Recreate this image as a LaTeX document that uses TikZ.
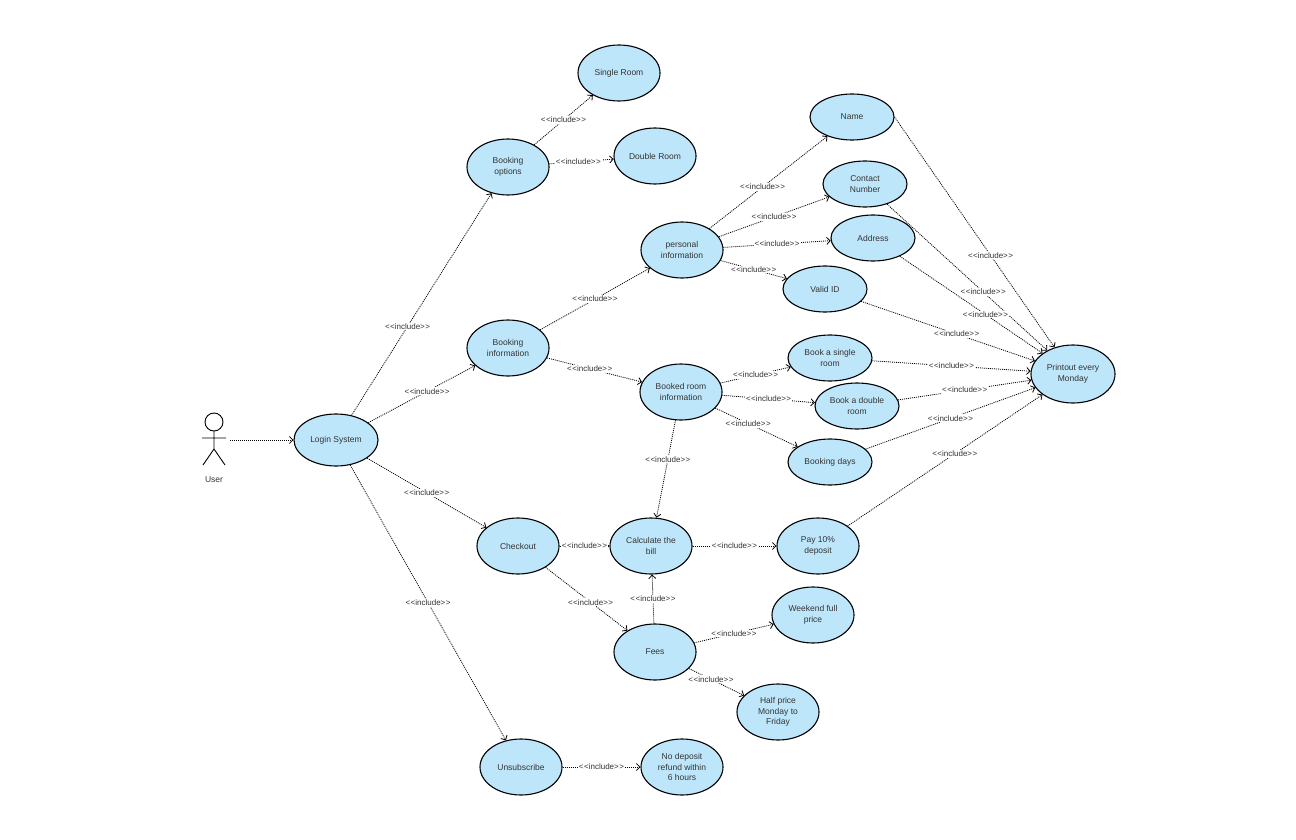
\documentclass[tikz,border=0pt]{standalone}
\usepackage{fontspec}
\setmainfont{Liberation Sans}[Ligatures=NoCommon]
\usetikzlibrary{arrows.meta,shapes.geometric}
\definecolor{uc}{HTML}{BEE6FB}
\definecolor{tx}{HTML}{333333}
\tikzset{
 uc/.style={draw=black,line width=1.1pt,fill=uc,shape=ellipse,minimum width=82pt,minimum height=56pt,inner sep=0pt,align=center,font=\fontsize{8.5}{10.5}\selectfont,text=tx},
 ucs/.style={uc,minimum height=46pt,minimum width=84pt},
 rel/.style={line width=0.8pt,dash pattern=on 1pt off 1pt,-{Straight Barb[length=3.5pt,width=7pt,line width=0.8pt,sep=0pt]}},
 lab/.style={fill=white,inner sep=1pt,font=\fontsize{8}{9}\selectfont,text=tx},
}
\newcommand{\inc}[3]{\draw[rel] (#1) -- node[lab,pos=#3]{{<}\kern0.5pt{<}include{>}\kern0.5pt{>}} (#2);}
\begin{document}
\begin{tikzpicture}[x=1pt,y=-1pt]
\useasboundingbox[fill=white] (0,0) rectangle (1296,840);
\node[uc] (single) at (619,73) {Single Room};
\node[uc] (double) at (655,156) {Double Room};
\node[uc] (bopt) at (508,167) {Booking\\options};
\node[ucs] (name) at (852,117) {Name};
\node[ucs] (contact) at (865,184) {Contact\\Number};
\node[ucs] (addr) at (873,238) {Address};
\node[uc] (pers) at (682,250) {personal\\information};
\node[ucs] (vid) at (825,289) {Valid ID};
\node[uc] (binfo) at (508,348) {Booking\\information};
\node[ucs] (bsingle) at (830,358) {Book a single\\room};
\node[uc,minimum width=84pt,minimum height=58pt] (print) at (1073,374) {Printout every\\Monday};
\node[uc] (broom) at (681,392) {Booked room\\information};
\node[ucs] (bdouble) at (857,406) {Book a double\\room};
\node[ucs] (bdays) at (830,462) {Booking days};
\node[uc,minimum width=84pt,minimum height=52pt] (login) at (336,440) {Login System};
\node[uc] (check) at (518,546) {Checkout};
\node[uc] (calc) at (651,546) {Calculate the\\bill};
\node[uc] (pay) at (818,546) {Pay 10\%\\deposit};
\node[uc] (week) at (813,615) {Weekend full\\price};
\node[uc] (fees) at (655,652) {Fees};
\node[uc] (half) at (778,712) {Half price\\Monday to\\Friday};
\node[uc] (unsub) at (521,767) {Unsubscribe};
\node[uc] (nodep) at (682,767) {No deposit\\refund within\\6 hours};
% actor
\coordinate (head) at (214,422);
\draw[line width=0.9pt] (head) circle (9);
\draw[line width=0.9pt] (214,431) -- (214,449) (202,438) -- (226,438) (214,449) -- (203,465) (214,449) -- (225,465);
\node[font=\fontsize{8.5}{10}\selectfont,text=tx] (user) at (214,480) {User};
\coordinate (actor) at (230,440);
\draw[rel] (actor) -- (login);
\inc{login}{bopt}{0.4}
\inc{login}{binfo}{0.55}
\inc{login}{check}{0.5}
\inc{login}{unsub}{0.5}
\inc{bopt}{single}{0.5}
\inc{bopt}{double}{0.45}
\inc{binfo}{pers}{0.5}
\inc{binfo}{broom}{0.45}
\inc{pers}{name}{0.45}
\inc{pers}{contact}{0.5}
\inc{pers}{addr}{0.5}
\inc{pers}{vid}{0.5}
\inc{broom}{bsingle}{0.5}
\inc{broom}{bdouble}{0.5}
\inc{broom}{bdays}{0.4}
\inc{broom}{calc}{0.4}
\inc{check}{calc}{0.5}
\inc{calc}{pay}{0.5}
\inc{check}{fees}{0.55}
\inc{fees}{calc}{0.5}
\inc{fees}{week}{0.5}
\inc{fees}{half}{0.4}
\inc{unsub}{nodep}{0.5}
\inc{name.east}{print}{0.6}
\inc{contact}{print}{0.6}
\inc{addr}{print}{0.6}
\inc{vid}{print}{0.55}
\inc{bsingle}{print}{0.5}
\inc{bdouble}{print}{0.5}
\inc{bdays}{print}{0.5}
\inc{pay}{print}{0.55}
\end{tikzpicture}
\end{document}
